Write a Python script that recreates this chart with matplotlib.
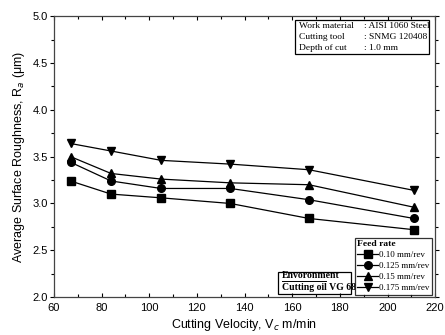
import matplotlib.pyplot as plt
from matplotlib.ticker import MultipleLocator

velocity = [67, 84, 105, 134, 167, 211]
ra_010 = [3.24, 3.10, 3.06, 3.00, 2.84, 2.72]
ra_0125 = [3.44, 3.24, 3.16, 3.16, 3.04, 2.84]
ra_015 = [3.50, 3.32, 3.26, 3.22, 3.20, 2.96]
ra_0175 = [3.64, 3.56, 3.46, 3.42, 3.36, 3.14]
feed_labels = ["0.10 mm/rev", "0.125 mm/rev", "0.15 mm/rev", "0.175 mm/rev"]
markers = ["s", "o", "^", "v"]
info_keys = ["Work material", "Cutting tool", "Depth of cut"]
info_vals = [": AISI 1060 Steel", ": SNMG 120408", ": 1.0 mm"]

plt.rcParams['font.family'] = ['Liberation Sans', 'DejaVu Sans']

fig = plt.figure(figsize=(4.45, 3.35), dpi=100)
ax = fig.add_axes([0.121, 0.113, 0.857, 0.839])

for ys, lab, m in zip([ra_010, ra_0125, ra_015, ra_0175], feed_labels, markers):
    ax.plot(velocity, ys, color="k", lw=0.9, marker=m, ms=5.5, label=lab)

ax.set_xlim(60, 220)
ax.set_ylim(2.0, 5.0)
ax.xaxis.set_major_locator(MultipleLocator(20))
ax.xaxis.set_minor_locator(MultipleLocator(10))
ax.yaxis.set_major_locator(MultipleLocator(0.5))
ax.yaxis.set_minor_locator(MultipleLocator(0.25))
ax.tick_params(which="both", labelsize=8, width=0.8, top=True, right=True, direction="in")
ax.tick_params(axis="y", which="both", direction="out", left=True)
ax.tick_params(which="major", length=3)
ax.tick_params(which="minor", length=2)
ax.tick_params(axis="y", pad=1)
ax.tick_params(axis="x", pad=4)
for s in ax.spines.values():
    s.set_linewidth(0.9)
    s.set_color("#444444")

ax.set_xlabel("Cutting Velocity, V$_c$ m/min", fontsize=9, labelpad=3)
ax.set_ylabel("Average Surface Roughness, R$_a$ (\u03bcm)", fontsize=9, labelpad=4)

serif = ['Liberation Serif', 'DejaVu Serif']

# info box, top right
ax.add_patch(plt.Rectangle((0.633, 0.865), 0.351, 0.121, transform=ax.transAxes,
                           fill=False, ec="k", lw=0.9, zorder=5))
for i, (k, v) in enumerate(zip(info_keys, info_vals)):
    y = 0.965 - i * 0.04
    ax.text(0.642, y, k, transform=ax.transAxes, ha="left", va="center",
            fontsize=6.8, family=serif)
    ax.text(0.814, y, v, transform=ax.transAxes, ha="left", va="center",
            fontsize=6.8, family=serif)

leg = ax.legend(loc="lower right", bbox_to_anchor=(0.992, 0.007), title="Feed rate",
                prop={'family': serif, 'size': 6.5},
                title_fontproperties={'family': serif, 'size': 6.8, 'weight': 'bold'},
                frameon=True, fancybox=False, edgecolor="k", borderpad=0.3,
                labelspacing=0.3, handlelength=2.3, handletextpad=0.1,
                borderaxespad=0.0)
leg._legend_box.align = "left"
leg.get_frame().set_linewidth(0.9)

ax.text(0.598, 0.06, "Envoronment", transform=ax.transAxes, ha="left", va="bottom",
        fontsize=7, family=serif, weight="bold")
ax.plot([0.598, 0.714], [0.058, 0.058], transform=ax.transAxes, color="k", lw=0.7)
ax.text(0.598, 0.018, "Cutting oil VG 68", transform=ax.transAxes, ha="left", va="bottom",
        fontsize=7, family=serif, weight="bold")
ax.add_patch(plt.Rectangle((0.588, 0.011), 0.192, 0.078, transform=ax.transAxes,
                           fill=False, ec="k", lw=0.9))

fig.savefig("out.png", dpi=100)
